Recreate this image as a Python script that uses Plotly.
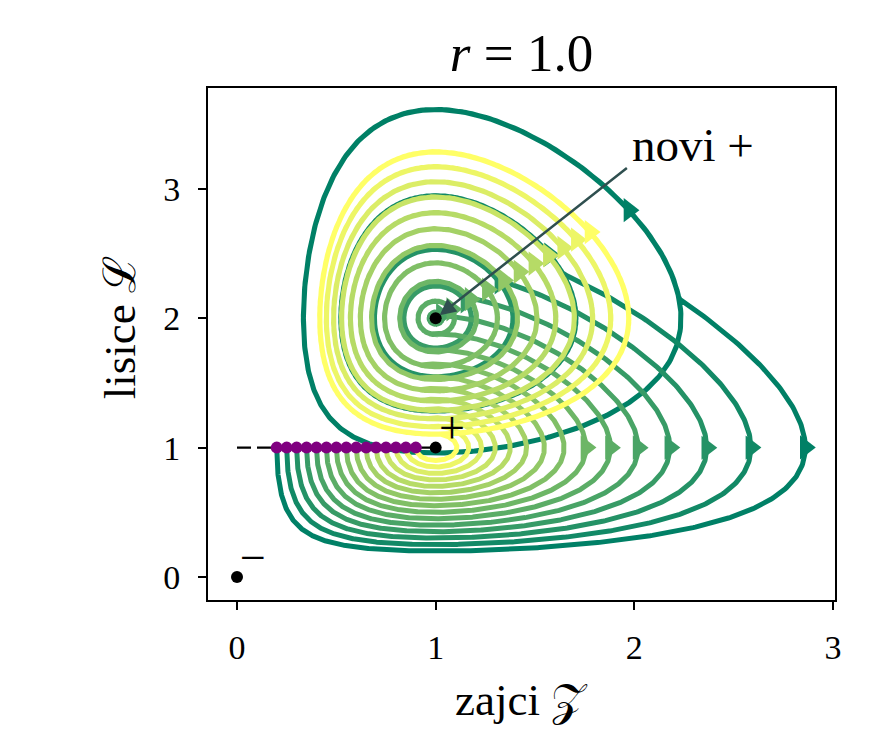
import numpy as np
import plotly.graph_objects as go

# ---- data ----
r = 1.0
z_start = [0.20, 0.25, 0.30, 0.35, 0.40, 0.45, 0.50, 0.55,
           0.60, 0.65, 0.70, 0.75, 0.80, 0.85, 0.90]
l_start = 1.0
old_eq_l = 1.0            # old equilibrium fox level
new_eq_l = 1.0 + r        # new equilibrium fox level
point_z = [0.0, 1.0, 1.0]
point_l = [0.0, 1.0, 1.0 + r]
t_switch = 4.97
t_after = 15.0
dt = 0.002

def rhs(z, l, c):
    return z * (c - l), l * (z - 1.0)

def rk4(z, l, c, t_end):
    n = int(round(t_end / dt))
    Z = np.empty((n + 1, z.size)); L = np.empty((n + 1, z.size))
    Z[0], L[0] = z, l
    for k in range(n):
        a1, b1 = rhs(z, l, c)
        a2, b2 = rhs(z + 0.5*dt*a1, l + 0.5*dt*b1, c)
        a3, b3 = rhs(z + 0.5*dt*a2, l + 0.5*dt*b2, c)
        a4, b4 = rhs(z + dt*a3, l + dt*b3, c)
        z = z + dt/6*(a1 + 2*a2 + 2*a3 + a4)
        l = l + dt/6*(b1 + 2*b2 + 2*b3 + b4)
        Z[k+1], L[k+1] = z, l
    return Z, L

z0 = np.array(z_start); l0 = np.full(z0.size, l_start)
Zo, Lo = rk4(z0, l0, old_eq_l, t_switch)
Zn, Ln = rk4(Zo[-1], Lo[-1], new_eq_l, t_after)

def summer(c):
    return f"rgb({int(round(255*c))},{int(round(255*(0.5+0.5*c)))},102)"

fig = go.Figure()
n = z0.size
sx, sy = 198.7, 129.3
for i in range(n):
    col = summer(i / (n - 1))
    zz = np.concatenate([Zo[:, i], Zn[1:, i]])[::4]
    ll = np.concatenate([Lo[:, i], Ln[1:, i]])[::4]
    fig.add_trace(go.Scatter(x=zz, y=ll, mode="lines",
                             line=dict(color=col, width=5),
                             hoverinfo="skip", showlegend=False))
    az, al = [], []
    if z_start[i] <= 0.5:
        k = int(np.argmax(Zo[:, i]))
        az.append(Zo[k, i]); al.append(Lo[k, i])
    ang = np.degrees(np.arctan2((Ln[:, i] - new_eq_l) * sy, (Zn[:, i] - 1.0) * sx))
    cross = np.where((ang[1:] >= 29) & (ang[:-1] < 29) & (Zn[1:, i] > 1))[0]
    if cross.size:
        k = cross[0] + 1
        az.append(Zn[k, i]); al.append(Ln[k, i])
    fig.add_trace(go.Scatter(x=az, y=al, mode="markers",
                             marker=dict(symbol="triangle-right", size=21, color=col),
                             hoverinfo="skip", showlegend=False))

# dashed line at old equilibrium level
fig.add_trace(go.Scatter(x=[0, 1], y=[old_eq_l, old_eq_l], mode="lines",
                         line=dict(color="black", width=2.4, dash="14px,6px"),
                         showlegend=False, hoverinfo="skip"))
fig.add_trace(go.Scatter(x=z_start, y=[l_start]*n, mode="markers",
                         marker=dict(color="purple", size=12),
                         showlegend=False, hoverinfo="skip"))
fig.add_trace(go.Scatter(x=point_z, y=point_l, mode="markers",
                         marker=dict(color="black", size=12),
                         showlegend=False, hoverinfo="skip"))

serif = "Liberation Serif"
fig.add_annotation(x=1, y=1, text="+", showarrow=False, xshift=16, yshift=20,
                   font=dict(family=serif, size=46, color="black"))
fig.add_annotation(x=0, y=0, text="−", showarrow=False, xshift=16, yshift=19,
                   font=dict(family=serif, size=46, color="black"))
fig.add_annotation(x=1, y=2, ax=1.97, ay=3.17, axref="x", ayref="y", text="",
                   showarrow=True, arrowhead=2, arrowsize=1.3, arrowwidth=2.5,
                   arrowcolor="#2F4F4F", standoff=5)
fig.add_annotation(x=1.98, y=3.34, text="novi +", showarrow=False, xanchor="left",
                   yanchor="middle", font=dict(family=serif, size=47, color="black"))

fig.add_annotation(x=0.5, y=-0.195, xref="paper", yref="paper", text="zajci 𝒵",
                   xanchor="center", yanchor="middle",
                   showarrow=False, font=dict(family=serif, size=45, color="black"))
fig.add_annotation(x=-0.14, y=0.531, xref="paper", yref="paper", text="lisice ℒ",
                   xanchor="center", yanchor="middle",
                   textangle=-90, showarrow=False, font=dict(family=serif, size=45, color="black"))

axis_common = dict(showgrid=False, zeroline=False, showline=True, linecolor="black",
                   linewidth=2, mirror=True, ticks="outside", ticklen=8, tickwidth=1.6,
                   tickcolor="black", tickfont=dict(family=serif, size=34, color="black"))
fig.update_xaxes(range=[-0.146, 3.01], tickvals=[0, 1, 2, 3], ticklabelstandoff=8, **axis_common)
fig.update_yaxes(range=[-0.178, 3.78], tickvals=[0, 1, 2, 3], ticklabelstandoff=11, **axis_common)

fig.update_layout(
    width=870, height=750, plot_bgcolor="white", paper_bgcolor="white",
    margin=dict(l=200, r=43, t=80, b=158),
    title=dict(text="<i>r</i> = 1.0", x=513.5/870, xanchor="center", y=1-44/750,
               yanchor="middle", font=dict(family=serif, size=53, color="black")),
)
fig.write_html("out.html")
